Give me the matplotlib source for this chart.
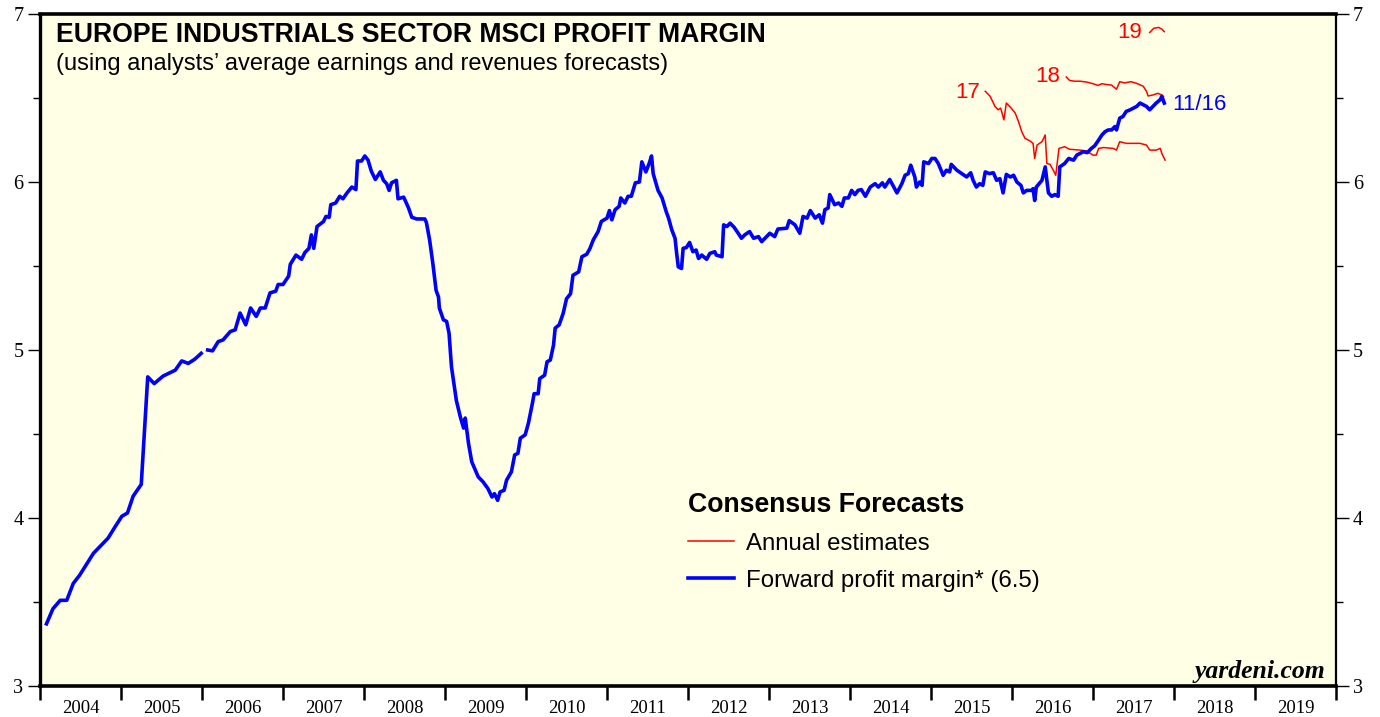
import numpy as np
import matplotlib
matplotlib.use("Agg")
from matplotlib import pyplot as plt
from matplotlib.ticker import FixedLocator, NullFormatter, FixedFormatter

# forward profit margin, weekly-ish (decimal years), with a gap early 2006
fwd_x1 = [2004.08, 2004.16, 2004.25, 2004.33, 2004.41, 2004.49, 2004.66, 2004.84, 2004.93,
          2005.01, 2005.08, 2005.15, 2005.25, 2005.33, 2005.41, 2005.52, 2005.67, 2005.75,
          2005.83, 2005.91, 2005.99]
fwd_y1 = [3.37, 3.46, 3.51, 3.51, 3.61, 3.66, 3.79, 3.88, 3.95,
          4.01, 4.03, 4.13, 4.20, 4.84, 4.80, 4.845, 4.88, 4.935,
          4.92, 4.945, 4.98]

fwd_x2 = [2006.07, 2006.13, 2006.20, 2006.26, 2006.35, 2006.41, 2006.47, 2006.54, 2006.60,
          2006.67, 2006.72, 2006.78, 2006.84, 2006.91, 2006.94, 2007.00, 2007.07, 2007.09,
          2007.16, 2007.23, 2007.27, 2007.32, 2007.35, 2007.38, 2007.42, 2007.50, 2007.53,
          2007.57, 2007.59, 2007.65, 2007.70, 2007.74, 2007.79, 2007.85, 2007.90, 2007.92,
          2007.97, 2008.01, 2008.05, 2008.09, 2008.14, 2008.20, 2008.24, 2008.28, 2008.31,
          2008.34, 2008.40, 2008.42, 2008.49, 2008.55, 2008.59, 2008.65, 2008.75, 2008.77,
          2008.81, 2008.85, 2008.89, 2008.92, 2008.93, 2008.98, 2009.02, 2009.05, 2009.08,
          2009.14, 2009.19, 2009.23, 2009.25, 2009.29, 2009.33, 2009.41, 2009.47, 2009.53,
          2009.58, 2009.61, 2009.65, 2009.68, 2009.73, 2009.76, 2009.82, 2009.86, 2009.90,
          2009.93, 2009.99, 2010.03, 2010.08, 2010.10, 2010.15, 2010.17, 2010.23, 2010.26,
          2010.30, 2010.34, 2010.36, 2010.41, 2010.46, 2010.50, 2010.55, 2010.58, 2010.65,
          2010.69, 2010.75, 2010.79, 2010.83, 2010.89, 2010.93, 2011.00, 2011.03, 2011.06,
          2011.10, 2011.15, 2011.17, 2011.22, 2011.26, 2011.30, 2011.35, 2011.40, 2011.43,
          2011.48, 2011.52, 2011.55, 2011.57, 2011.63, 2011.68, 2011.73, 2011.76, 2011.80,
          2011.84, 2011.86, 2011.88, 2011.92, 2011.94, 2011.98, 2012.02, 2012.06, 2012.10,
          2012.13, 2012.17, 2012.23, 2012.27, 2012.33, 2012.35, 2012.42, 2012.44, 2012.48,
          2012.52, 2012.57, 2012.62, 2012.66, 2012.70, 2012.76, 2012.81, 2012.87, 2012.91,
          2013.01, 2013.07, 2013.11, 2013.22, 2013.25, 2013.32, 2013.38, 2013.42, 2013.47,
          2013.51, 2013.57, 2013.62, 2013.66, 2013.69, 2013.73, 2013.75, 2013.81, 2013.86,
          2013.90, 2013.93, 2013.98, 2014.02, 2014.06, 2014.10, 2014.14, 2014.19, 2014.25,
          2014.31, 2014.35, 2014.40, 2014.43, 2014.49, 2014.53, 2014.58, 2014.64, 2014.68,
          2014.72, 2014.75, 2014.80, 2014.82, 2014.86, 2014.89, 2014.91, 2014.97, 2015.01,
          2015.05, 2015.09, 2015.15, 2015.19, 2015.23, 2015.25, 2015.32, 2015.38, 2015.44,
          2015.49, 2015.52, 2015.56, 2015.60, 2015.64, 2015.67, 2015.72, 2015.77, 2015.81,
          2015.85, 2015.89, 2015.93, 2015.98, 2016.02, 2016.06, 2016.11, 2016.14, 2016.18,
          2016.24, 2016.26, 2016.28, 2016.30, 2016.37, 2016.41, 2016.45, 2016.49, 2016.53,
          2016.57, 2016.59, 2016.65, 2016.70, 2016.76, 2016.80, 2016.84, 2016.88, 2016.93,
          2016.98, 2017.02, 2017.07, 2017.11, 2017.15, 2017.19, 2017.23, 2017.27, 2017.29,
          2017.33, 2017.37, 2017.41, 2017.46, 2017.50, 2017.54, 2017.58, 2017.62, 2017.66,
          2017.70, 2017.74, 2017.78, 2017.83, 2017.85, 2017.88]
fwd_y2 = [5.00, 4.995, 5.05, 5.06, 5.11, 5.12, 5.22, 5.15, 5.25,
          5.20, 5.25, 5.25, 5.34, 5.35, 5.39, 5.39, 5.44, 5.51,
          5.565, 5.54, 5.58, 5.605, 5.685, 5.605, 5.735, 5.765, 5.795,
          5.79, 5.865, 5.875, 5.915, 5.90, 5.935, 5.97, 5.955, 6.125,
          6.125, 6.155, 6.13, 6.065, 6.015, 6.06, 6.01, 5.99, 5.95,
          5.995, 6.01, 5.90, 5.91, 5.845, 5.79, 5.78, 5.78, 5.76,
          5.655, 5.515, 5.355, 5.315, 5.25, 5.18, 5.17, 5.10, 4.90,
          4.70, 4.60, 4.535, 4.595, 4.445, 4.335, 4.245, 4.215, 4.175,
          4.125, 4.145, 4.105, 4.155, 4.165, 4.225, 4.275, 4.375, 4.385,
          4.475, 4.495, 4.565, 4.685, 4.74, 4.74, 4.83, 4.85, 4.93,
          4.94, 5.03, 5.13, 5.15, 5.22, 5.305, 5.335, 5.445, 5.465,
          5.555, 5.57, 5.605, 5.655, 5.705, 5.765, 5.785, 5.83, 5.775,
          5.835, 5.855, 5.905, 5.875, 5.915, 5.915, 5.995, 6.00, 6.12,
          6.06, 6.11, 6.155, 6.05, 5.95, 5.905, 5.825, 5.785, 5.715,
          5.665, 5.575, 5.495, 5.485, 5.605, 5.61, 5.64, 5.585, 5.595,
          5.545, 5.565, 5.54, 5.575, 5.585, 5.565, 5.555, 5.745, 5.735,
          5.755, 5.73, 5.695, 5.665, 5.685, 5.705, 5.665, 5.675, 5.645,
          5.695, 5.675, 5.72, 5.725, 5.77, 5.745, 5.695, 5.795, 5.785,
          5.83, 5.785, 5.805, 5.755, 5.835, 5.845, 5.925, 5.865, 5.875,
          5.855, 5.905, 5.905, 5.95, 5.925, 5.95, 5.955, 5.915, 5.97,
          5.99, 5.97, 5.995, 5.97, 6.015, 5.98, 5.935, 5.99, 6.04,
          6.05, 6.10, 6.03, 5.97, 6.00, 5.98, 6.12, 6.11, 6.14,
          6.14, 6.11, 6.04, 6.07, 6.06, 6.105, 6.07, 6.05, 6.03,
          6.055, 6.01, 5.97, 5.99, 5.98, 6.06, 6.05, 6.055, 6.01,
          6.02, 5.935, 6.045, 6.03, 6.04, 6.00, 5.98, 5.935, 5.95,
          5.95, 5.96, 5.89, 5.97, 6.01, 6.09, 5.935, 5.915, 5.925,
          5.915, 6.09, 6.11, 6.14, 6.13, 6.16, 6.17, 6.18, 6.175,
          6.20, 6.215, 6.25, 6.28, 6.30, 6.31, 6.31, 6.33, 6.31,
          6.38, 6.39, 6.42, 6.43, 6.44, 6.45, 6.47, 6.46, 6.45,
          6.43, 6.45, 6.47, 6.49, 6.51, 6.47]

# annual consensus estimates
est17_x = [2015.67, 2015.73, 2015.79, 2015.83, 2015.86, 2015.90, 2015.93, 2015.99, 2016.04,
           2016.08, 2016.12, 2016.16, 2016.22, 2016.26, 2016.28, 2016.31, 2016.37, 2016.41,
           2016.43, 2016.47, 2016.51, 2016.54, 2016.58, 2016.65, 2016.71, 2016.84, 2016.92,
           2017.00, 2017.04, 2017.07, 2017.13, 2017.25, 2017.29, 2017.33, 2017.41, 2017.50,
           2017.58, 2017.66, 2017.70, 2017.78, 2017.83, 2017.85, 2017.89]
est17_y = [6.54, 6.51, 6.45, 6.43, 6.44, 6.37, 6.47, 6.44, 6.41,
           6.36, 6.30, 6.26, 6.245, 6.23, 6.14, 6.22, 6.24, 6.28,
           6.11, 6.105, 6.07, 6.04, 6.20, 6.21, 6.195, 6.19, 6.185,
           6.16, 6.16, 6.20, 6.205, 6.20, 6.19, 6.24, 6.23, 6.23,
           6.23, 6.22, 6.19, 6.19, 6.20, 6.17, 6.13]

est18_x = [2016.67, 2016.71, 2016.77, 2016.84, 2016.92, 2017.00, 2017.06, 2017.11, 2017.17,
           2017.23, 2017.29, 2017.33, 2017.39, 2017.47, 2017.54, 2017.62, 2017.66, 2017.68,
           2017.74, 2017.80, 2017.85, 2017.87]
est18_y = [6.625, 6.605, 6.60, 6.60, 6.595, 6.585, 6.575, 6.585, 6.58,
           6.577, 6.552, 6.597, 6.59, 6.597, 6.587, 6.57, 6.54, 6.512,
           6.518, 6.528, 6.518, 6.508]

est19_x = [2017.70, 2017.75, 2017.81, 2017.85, 2017.88]
est19_y = [6.89, 6.915, 6.92, 6.91, 6.895]

years = list(range(2004, 2020))
year_labels = [str(y) for y in years]

BLUE = "#0000FF"
RED = "#FF0000"
BG = "#FFFFE6"

fig = plt.figure(figsize=(13.8, 7.17), dpi=100)
ax = fig.add_axes([40 / 1380, 1 - 686 / 717, 1296 / 1380, 672 / 717])
ax.set_facecolor(BG)

ax.plot(est17_x, est17_y, color=RED, lw=1.1, label="Annual estimates")
ax.plot(est18_x, est18_y, color=RED, lw=1.1)
ax.plot(est19_x, est19_y, color=RED, lw=1.1)
ax.plot(fwd_x1, fwd_y1, color=BLUE, lw=2.6, solid_joinstyle="round")
ax.plot(fwd_x2, fwd_y2, color=BLUE, lw=2.6, solid_joinstyle="round",
        label="Forward profit margin* (6.5)")

ax.set_xlim(2004, 2020)
ax.set_ylim(3, 7)

# x axis: ticks on year boundaries, labels centred in each year
ax.xaxis.set_major_locator(FixedLocator(list(range(2004, 2021))))
ax.xaxis.set_major_formatter(NullFormatter())
ax.xaxis.set_minor_locator(FixedLocator([y + 0.5 for y in years]))
ax.xaxis.set_minor_formatter(FixedFormatter(year_labels))
ax.tick_params(axis="x", which="major", direction="out", length=10, width=1.8)
ax.tick_params(axis="x", which="minor", length=0, pad=10, labelsize=13.5)

ax.yaxis.set_major_locator(FixedLocator([3, 4, 5, 6, 7]))
ax.yaxis.set_minor_locator(FixedLocator([3.5, 4.5, 5.5, 6.5]))
ax.tick_params(axis="y", which="both", left=True, right=True, labelleft=True,
               labelright=True, direction="out")
ax.tick_params(axis="y", which="major", length=9, width=1.0, pad=3, labelsize=14.5)
ax.tick_params(axis="y", which="minor", length=5, width=1.0)
for lab in ax.get_xticklabels(minor=True) + ax.get_yticklabels():
    lab.set_family("Liberation Serif")

for side, w in (("left", 2.4), ("bottom", 2.6), ("top", 2.6), ("right", 1.6)):
    ax.spines[side].set_linewidth(w)

sans = "Liberation Sans"
ax.text(0.0123, 0.9688, "EUROPE INDUSTRIALS SECTOR MSCI PROFIT MARGIN",
        transform=ax.transAxes, ha="left", va="center", family=sans,
        fontsize=19.2, fontweight="bold")
ax.text(0.0123, 0.9256, "(using analysts\u2019 average earnings and revenues forecasts)",
        transform=ax.transAxes, ha="left", va="center", family=sans, fontsize=17)

# line labels
ax.text(2015.61, 6.53, "17", color=RED, ha="right", va="center", family=sans, fontsize=16)
ax.text(2016.59, 6.63, "18", color=RED, ha="right", va="center", family=sans, fontsize=16)
ax.text(2017.61, 6.89, "19", color=RED, ha="right", va="center", family=sans, fontsize=16)
ax.text(2017.98, 6.46, "11/16", color=BLUE, ha="left", va="center", family=sans, fontsize=16)

leg = ax.legend(loc="upper left", bbox_to_anchor=(0.5, 0.289), frameon=False,
                title="Consensus Forecasts", handlelength=1.9, handletextpad=0.5,
                labelspacing=0.62, borderpad=0, borderaxespad=0,
                prop={"family": sans, "size": 17.3},
                title_fontproperties={"family": sans, "size": 19.2, "weight": "bold"})
leg._legend_box.align = "left"

ax.text(0.9915, 0.012, "yardeni.com", transform=ax.transAxes, ha="right",
        va="baseline", family="Liberation Serif", fontsize=18.5,
        fontweight="bold", style="italic")

fig.savefig("out.png", dpi=100)
